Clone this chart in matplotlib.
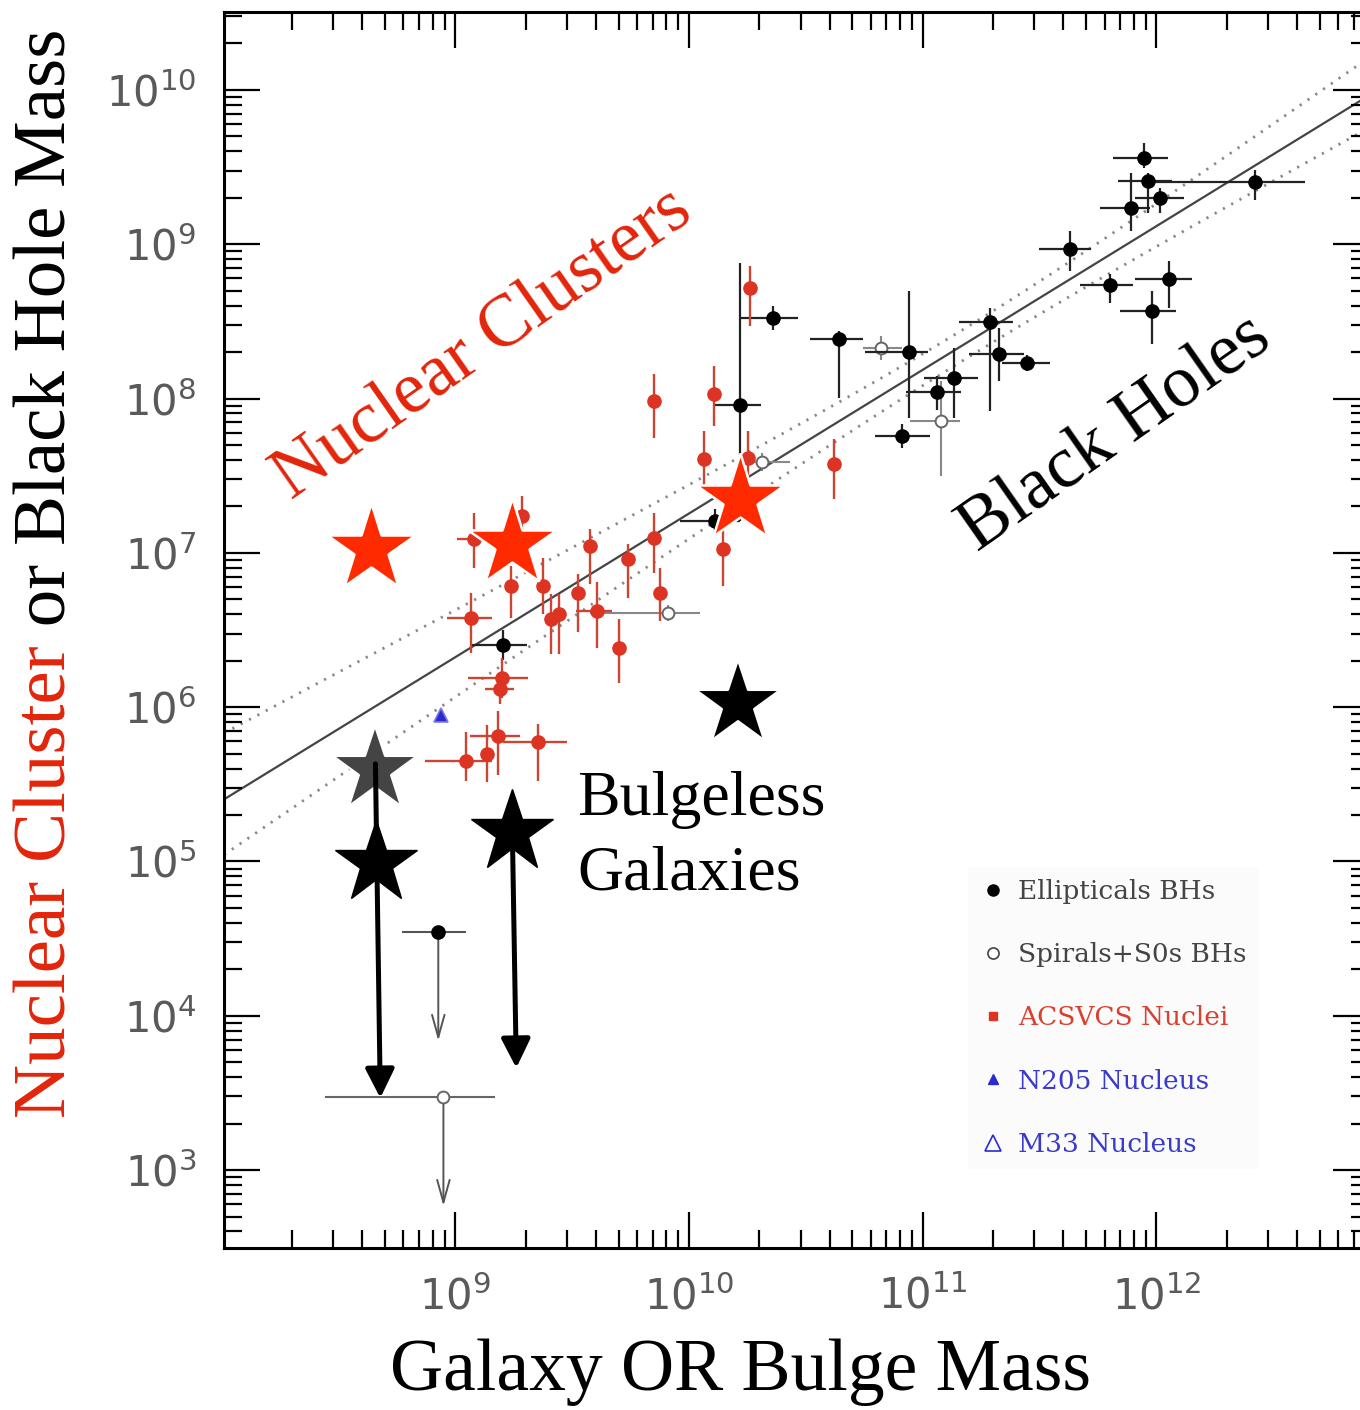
import matplotlib
matplotlib.use("Agg")
import numpy as np
import matplotlib.pyplot as plt
from matplotlib.lines import Line2D
from matplotlib.ticker import LogLocator, LogFormatterSciNotation, NullFormatter

# ---------------- data (log10 of mass in solar units) ----------------
# Elliptical galaxies with black-hole masses
ell_lgal = [11.948, 11.965, 12.423, 12.017, 11.893, 11.632, 11.803, 12.055, 11.982,
            11.289, 11.328, 11.448, 11.135, 11.062, 10.943, 10.643, 10.361, 10.220,
            10.113, 10.913, 9.205]
ell_lbh = [9.559, 9.410, 9.404, 9.300, 9.235, 8.970, 8.736, 8.775, 8.568,
           8.496, 8.289, 8.231, 8.134, 8.043, 8.302, 8.386, 8.522, 7.959,
           7.207, 7.758, 6.403]
ell_xlo = [.133, .128, .449, .107, .133, .133, .128, .145, .137,
           .133, .128, .107, .128, .133, .188, .124, .141, .107,
           .150, .115, .141]
ell_xhi = [.103, .100, .214, .100, .080, .090, .098, .098, .103,
           .098, .107, .098, .103, .103, .081, .103, .107, .086,
           .107, .120, .103]
ell_ylo = [.065, .210, .120, .100, .150, .143, .117, .188, .214,
           .577, .175, .050, .260, .120, .428, .380, .080, .750,
           .080, .080, .100]
ell_yhi = [.100, .050, .080, .065, .227, .117, .070, .117, .130,
           .090, .168, .050, .194, .100, .395, .050, .080, .920,
           .080, .080, .100]

# Elliptical upper limit
ell_lim_lgal = [8.927]
ell_lim_lbh = [4.543]
ell_lim_xlo = [.154]
ell_lim_xhi = [.120]
ell_lim_to = [3.837]

# Spirals + S0s with black-hole masses
sp_lgal = [10.823, 10.314, 11.080, 9.911]
sp_lbh = [8.328, 7.589, 7.855, 6.610]
sp_xlo = [.077, .094, .133, .334]
sp_xhi = [.090, .120, .081, .137]
sp_ylo = [.080, .060, .356, .050]
sp_yhi = [.080, .060, .260, .050]

# Spiral upper limit
sp_lim_lgal = [8.949]
sp_lim_lbh = [3.474]
sp_lim_xlo = [.505]
sp_lim_xhi = [.222]
sp_lim_to = [2.767]

# ACSVCS nuclei
acs_lgal = [10.262, 9.852, 10.108, 10.065, 10.254, 10.147, 9.287, 9.081, 9.240,
            9.377, 9.578, 9.740, 9.852, 9.877, 9.526, 9.608, 9.411, 9.445,
            9.068, 9.702, 9.201, 9.193, 9.184, 9.355, 9.137, 9.047, 10.622]
acs_lnuc = [8.717, 7.984, 8.030, 7.609, 7.615, 7.025, 7.239, 7.090, 6.785,
            6.785, 7.045, 6.960, 7.097, 6.740, 6.740, 6.623, 6.572, 6.604,
            6.578, 6.384, 6.189, 6.118, 5.813, 5.774, 5.697, 5.651, 7.576]
acs_xlo = [0, 0, 0, 0, 0, 0, 0, .073, 0,
           0, 0, 0, 0, 0, 0, .090, 0, 0,
           .103, 0, .145, .064, .120, .150, 0, .175, 0]
acs_xhi = [0, 0, 0, 0, 0, 0, 0, .068, 0,
           0, 0, 0, 0, 0, 0, .064, 0, 0,
           .090, 0, .111, .056, .094, .124, 0, .111, 0]
acs_ylo = [.246, .240, .210, .210, .180, .240, .160, .190, .210,
           .180, .250, .250, .230, .180, .250, .240, .230, .260,
           .230, .230, .130, .100, .250, .250, .180, .130, .230]
acs_yhi = [.143, .175, .180, .180, .175, .160, .130, .170, .130,
           .180, .110, .100, .160, .160, .120, .190, .160, .130,
           .160, .190, .130, .100, .160, .120, .190, .190, .160]

# NGC 205 nucleus
n205_lgal = [8.940]
n205_lnuc = [5.949]

# Bulgeless galaxies
bgl_nc_lgal = [8.641, 9.244, 10.220]          # nuclear clusters
bgl_nc_lmass = [7.025, 7.058, 7.349]
bgl_bh_lgal = [10.211]                        # black hole
bgl_bh_lmass = [6.021]
bgl_gray_lgal = [8.658]                       # tentative black hole
bgl_gray_lmass = [5.593]
bgl_lim_lgal = [8.662, 9.244]                 # black-hole upper limits
bgl_lim_lmass = [4.990, 5.191]
bgl_arrow_from_lgal = [8.658, 9.244]
bgl_arrow_from_lmass = [5.632, 5.191]
bgl_arrow_to_lgal = [8.679, 9.261]
bgl_arrow_to_lmass = [3.467, 3.662]

# Best fit and its 1-sigma band
fit_norm = 7.255        # log mass at log M_gal = 10
fit_slope = 0.931
band_center = 11.2
band_floor = 0.10
band_up = 0.131
band_lo = 0.108

tick_decades = [3, 4, 5, 6, 7, 8, 9, 10, 11, 12]

# ---------------- styling ----------------
RED_TXT = '#e2250b'
RED_PT = '#dd3322'
RED_BAR = '#cc4433'
STAR_RED = '#ff2a00'
BLUE = '#2a2ad0'
SERIF = 'Liberation Serif'

W, H = 1360, 1410
fig = plt.figure(figsize=(W / 100, H / 100), dpi=100)
ax = fig.add_axes([224 / W, 1 - 1248 / H, (1369 - 224) / W, (1248 - 12) / H])
ax.set_xscale('log')
ax.set_yscale('log')
ax.set_xlim(10 ** 8.01, 10 ** 12.91)
ax.set_ylim(10 ** 2.495, 10 ** 10.505)


def asym(lv, lo, hi):
    lv, lo, hi = map(np.asarray, (lv, lo, hi))
    v = 10 ** lv
    return np.vstack([v - 10 ** (lv - lo), 10 ** (lv + hi) - v])


# fit line and confidence band
lx = np.linspace(8.01, 12.91, 300)
ly = fit_norm + fit_slope * (lx - 10)
up = np.sqrt(band_floor ** 2 + (band_up * (lx - band_center)) ** 2)
lo = np.sqrt(band_floor ** 2 + (band_lo * (lx - band_center)) ** 2)
ax.plot(10 ** lx, 10 ** ly, color='#444444', lw=1.6, zorder=1)
ax.plot(10 ** lx, 10 ** (ly + up), color='#888888', lw=2.0, ls=(0, (0.8, 2.6)), zorder=1)
ax.plot(10 ** lx, 10 ** (ly - lo), color='#888888', lw=2.0, ls=(0, (0.8, 2.6)), zorder=1)

# spirals
ax.errorbar(10 ** np.array(sp_lgal), 10 ** np.array(sp_lbh),
            xerr=asym(sp_lgal, sp_xlo, sp_xhi), yerr=asym(sp_lbh, sp_ylo, sp_yhi),
            fmt='o', ms=8.5, mfc='white', mec='#666666', mew=1.4,
            ecolor='#888888', elinewidth=1.5, capsize=0, zorder=3)
ax.errorbar(10 ** np.array(sp_lim_lgal), 10 ** np.array(sp_lim_lbh),
            xerr=asym(sp_lim_lgal, sp_lim_xlo, sp_lim_xhi),
            fmt='o', ms=8.5, mfc='white', mec='#666666', mew=1.4,
            ecolor='#666666', elinewidth=1.5, capsize=0, zorder=3)

# ellipticals
ax.errorbar(10 ** np.array(ell_lgal), 10 ** np.array(ell_lbh),
            xerr=asym(ell_lgal, ell_xlo, ell_xhi), yerr=asym(ell_lbh, ell_ylo, ell_yhi),
            fmt='o', ms=9.5, mfc='black', mec='black',
            ecolor='#222222', elinewidth=1.6, capsize=0, zorder=4)
ax.errorbar(10 ** np.array(ell_lim_lgal), 10 ** np.array(ell_lim_lbh),
            xerr=asym(ell_lim_lgal, ell_lim_xlo, ell_lim_xhi),
            fmt='o', ms=9.5, mfc='black', mec='black',
            ecolor='#555555', elinewidth=1.5, capsize=0, zorder=4)

# upper-limit arrows
for gx, gy, ty in list(zip(ell_lim_lgal, ell_lim_lbh, ell_lim_to)) + \
        list(zip(sp_lim_lgal, sp_lim_lbh, sp_lim_to)):
    ax.annotate('', xy=(10 ** gx, 10 ** ty), xytext=(10 ** gx, 10 ** gy),
                arrowprops=dict(arrowstyle='->,head_length=0.9,head_width=0.25',
                                color='#555555', lw=1.4, shrinkA=0, shrinkB=0,
                                mutation_scale=18), zorder=3)

# ACSVCS nuclei
ax.errorbar(10 ** np.array(acs_lgal), 10 ** np.array(acs_lnuc),
            xerr=asym(acs_lgal, acs_xlo, acs_xhi), yerr=asym(acs_lnuc, acs_ylo, acs_yhi),
            fmt='o', ms=9.5, mfc=RED_PT, mec=RED_PT,
            ecolor=RED_BAR, elinewidth=1.7, capsize=0, zorder=5)

# NGC 205
ax.plot(10 ** np.array(n205_lgal), 10 ** np.array(n205_lnuc), ls='none', marker='^',
        ms=10, mfc=BLUE, mec='#7a7ae8', mew=1.2, zorder=5)

# bulgeless galaxies
ax.plot(10 ** np.array(bgl_gray_lgal), 10 ** np.array(bgl_gray_lmass), ls='none',
        marker='*', ms=64, mfc='#444444', mec='white', mew=1.5, zorder=6)
for fx, fy, tx, ty in zip(bgl_arrow_from_lgal, bgl_arrow_from_lmass,
                          bgl_arrow_to_lgal, bgl_arrow_to_lmass):
    ax.annotate('', xy=(10 ** tx, 10 ** ty), xytext=(10 ** fx, 10 ** fy),
                arrowprops=dict(arrowstyle='-|>,head_length=1.1,head_width=0.55',
                                color='black', lw=3.6, shrinkA=0, shrinkB=0,
                                mutation_scale=16), zorder=7)
ax.plot(10 ** np.array(bgl_lim_lgal), 10 ** np.array(bgl_lim_lmass), ls='none',
        marker='*', ms=62, mfc='black', mec='black', mew=1, zorder=8)
ax.plot(10 ** np.array(bgl_bh_lgal), 10 ** np.array(bgl_bh_lmass), ls='none',
        marker='*', ms=64, mfc='black', mec='white', mew=1.5, zorder=8)
ax.plot(10 ** np.array(bgl_nc_lgal), 10 ** np.array(bgl_nc_lmass), ls='none',
        marker='*', ms=66, mfc=STAR_RED, mec='white', mew=1.8, zorder=8)

# ---------------- axes / ticks ----------------
for sp in ax.spines.values():
    sp.set_linewidth(2.2)
for axis in (ax.xaxis, ax.yaxis):
    axis.set_major_locator(LogLocator(base=10, numticks=20))
    axis.set_minor_locator(LogLocator(base=10, subs=np.arange(2, 10), numticks=20))
    axis.set_minor_formatter(NullFormatter())
    axis.set_major_formatter(LogFormatterSciNotation())
ax.set_xticks([10.0 ** d for d in tick_decades if d >= 9])
ax.set_yticks([10.0 ** d for d in tick_decades if d <= 10])
ax.tick_params(which='both', direction='in', top=True, right=True, width=1.6,
               colors='black', labelcolor='#5a5a5a')
ax.tick_params(which='major', length=26, labelsize=30)
ax.tick_params(which='minor', length=13)
ax.tick_params(axis='y', which='major', pad=20)
ax.tick_params(axis='x', which='major', pad=20)

# ---------------- text ----------------
fig.text(741 / W, 1 - 1390 / H, 'Galaxy OR Bulge Mass', ha='center', va='baseline',
         fontsize=53, family=SERIF, color='black')

ylab_kw = dict(rotation=90, ha='center', va='bottom', fontsize=54, family=SERIF)
t1 = fig.text(48 / W, 1 - 1118 / H, 'Nuclear Cluster', color=RED_TXT, **ylab_kw)
fig.canvas.draw()
bb = t1.get_window_extent()
fig.text(48 / W, bb.y1 / H, ' or Black Hole Mass', color='black', **ylab_kw)

fig.text(483 / W, 1 - 345 / H, 'Nuclear Clusters', rotation=35, rotation_mode='anchor',
         ha='center', va='center', fontsize=53, family=SERIF, color=RED_TXT)
fig.text(1116 / W, 1 - 434 / H, 'Black Holes', rotation=35, rotation_mode='anchor',
         ha='center', va='center', fontsize=53, family=SERIF, color='black')
fig.text(577 / W, 1 - 815 / H, 'Bulgeless', ha='left', va='baseline',
         fontsize=46, family=SERIF, color='black')
fig.text(577 / W, 1 - 890 / H, 'Galaxies', ha='left', va='baseline',
         fontsize=46, family=SERIF, color='black')

# ---------------- legend ----------------
handles = [
    Line2D([], [], ls='none', marker='o', ms=8, mfc='black', mec='black'),
    Line2D([], [], ls='none', marker='o', ms=8, mfc='white', mec='#444444', mew=1.2),
    Line2D([], [], ls='none', marker='s', ms=6, mfc=RED_PT, mec=RED_PT),
    Line2D([], [], ls='none', marker='^', ms=7, mfc=BLUE, mec=BLUE),
    Line2D([], [], ls='none', marker='^', ms=11, mfc='white', mec=BLUE, mew=1.2),
]
labels = ['Ellipticals BHs', 'Spirals+S0s BHs', 'ACSVCS Nuclei', 'N205 Nucleus',
          'M33 Nucleus']
label_colors = ['#444444', '#444444', '#d9402e', '#3a3acc', '#3a3acc']
leg = ax.legend(handles, labels, loc='upper left',
                bbox_to_anchor=(968 / W, 1 - 867 / H), bbox_transform=fig.transFigure,
                borderaxespad=0, frameon=True, fancybox=False,
                prop=dict(family='DejaVu Serif', size=19),
                handlelength=1.0, handletextpad=0.45, labelspacing=1.45,
                borderpad=0.45)
leg.get_frame().set_facecolor('#fbfbfb')
leg.get_frame().set_edgecolor('none')
for t, c in zip(leg.get_texts(), label_colors):
    t.set_color(c)

fig.savefig('out.png', dpi=100)
